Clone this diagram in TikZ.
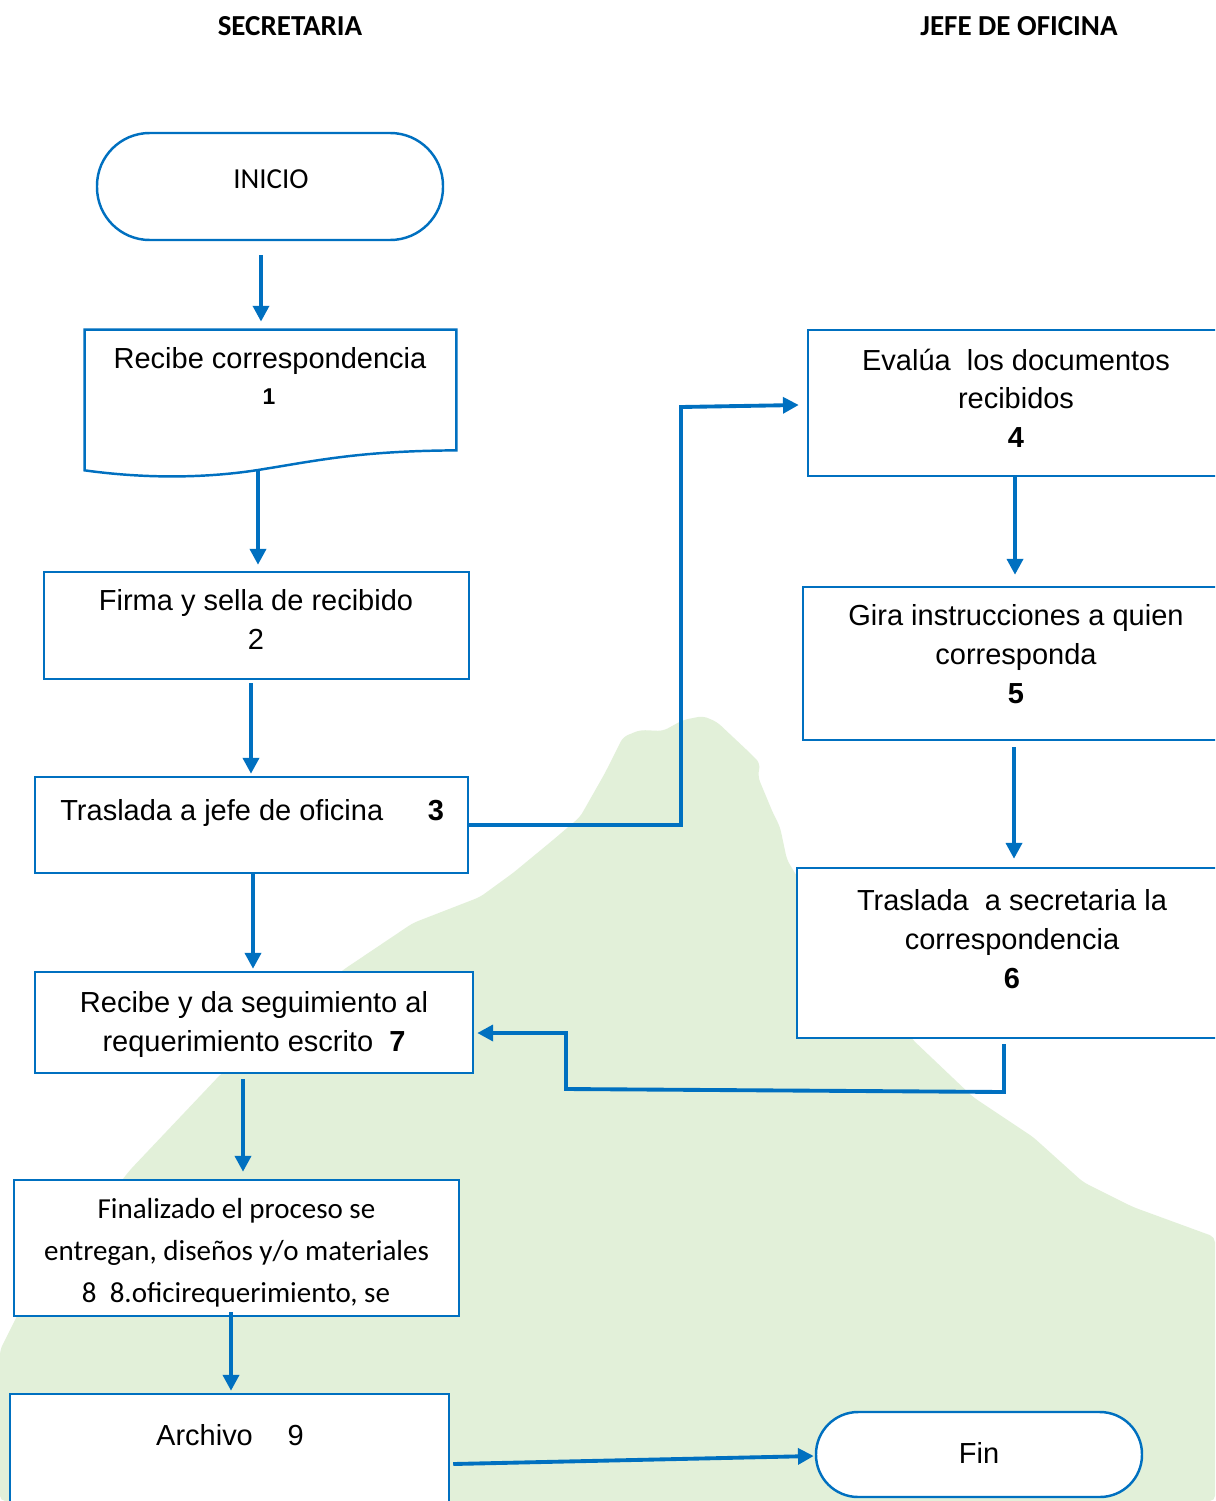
\documentclass[tikz,border=0pt]{standalone}
\usepackage{fontspec}
\setmainfont{Liberation Sans}
\newfontfamily\calibri{Carlito}
\usetikzlibrary{arrows.meta,calc,fit}
\definecolor{azul}{HTML}{0070C0}
\definecolor{verde}{HTML}{E2F0D9}
\begin{document}
\begin{tikzpicture}[x=0.02cm,y=-0.02cm,
  boxst/.style={draw=azul, line width=1.4pt, fill=white, inner sep=0pt},
  term/.style={boxst, rounded corners=#1},
  arr/.style={draw=azul, line width=2.2pt, -{Triangle[length=9pt,width=9pt]}},
  txt/.style={anchor=base, inner sep=0pt, font=\fontsize{16.5}{20}\selectfont},
  ctxt/.style={anchor=base, inner sep=0pt, font=\calibri\fontsize{16.5}{20}\selectfont},
  hdr/.style={anchor=base, inner sep=0pt, font=\calibri\bfseries\fontsize{16.5}{20}\selectfont}]

\clip (0,0) rectangle (1215,1501);
\fill[white] (0,0) rectangle (1215,1501);
\fill[verde, rounded corners=3pt] (0,1350) -- (20,1310) -- (130,1170) -- (220,1075) -- (343,970)
  -- (413,923) -- (480,897) -- (513,873) -- (553,840) -- (580,817) -- (605,773) -- (623,737)
  -- (640,730) -- (663,731) -- (683,720) -- (703,716) -- (717,722) -- (750,753) -- (760,763)
  -- (758,777) -- (773,813) -- (780,827) -- (787,860) -- (795,873) -- (850,960) -- (913,1040)
  -- (973,1097) -- (1033,1137) -- (1083,1182) -- (1133,1207) -- (1215,1237) -- (1215,1501)
  -- (0,1501) -- cycle;

% headers
\node[hdr] (h1) at (290,35) {SECRETARIA};
\node[hdr] (h2) at (1019,35) {JEFE DE OFICINA};

% shapes
\node[term=30pt, fit={(97,133) (443,240)}] (inicio) {};
\node[inner sep=0pt, fit={(85,330) (456,450)}] (b1) {};
\draw[draw=azul, line width=1.4pt, fill=white] ($(b1.south west)+(0,20)$) -- (b1.north west) -- (b1.north east) -- (b1.south east)
  .. controls (360,451) and (320,460) .. (258,470) .. controls (200,479) and (140,478) .. ($(b1.south west)+(0,20)$) -- cycle;
\node[boxst, fit={(44,572) (469,679)}] (b2) {};
\node[boxst, fit={(35,777) (468,873)}] (b3) {};
\node[boxst, fit={(808,330) (1230,476)}] (b4) {};
\node[boxst, fit={(803,587) (1230,740)}] (b5) {};
\node[boxst, fit={(797,868) (1230,1038)}] (b6) {};
\node[boxst, fit={(35,972) (473,1073)}] (b7) {};
\node[boxst, fit={(14,1180) (459,1316)}] (b8) {};
\node[boxst, fit={(10,1394) (449,1520)}] (b9) {};
\node[term=24pt, fit={(816,1412) (1142,1497)}] (fin) {};

% texts
\node[ctxt] (t0) at (271,188) {INICIO};
\node[txt] (t1a) at (270,368) {Recibe correspondencia};
\node[txt, font=\bfseries\fontsize{13}{15}\selectfont] (t1b) at (269,404) {1};
\node[txt] (t2a) at (256,610) {Firma y sella de recibido};
\node[txt] (t2b) at (256,649) {2};
\node[txt, anchor=base west] (t3a) at (60,820) {Traslada a jefe de oficina};
\node[txt, font=\bfseries\fontsize{16.5}{20}\selectfont] (t3b) at (436,820) {3};
\node[txt] (t4a) at (1016,370) {Evalúa\ \ los documentos};
\node[txt] (t4b) at (1016,408) {recibidos};
\node[txt, font=\bfseries\fontsize{16.5}{20}\selectfont] (t4c) at (1016,447) {4};
\node[txt] (t5a) at (1016,625) {Gira instrucciones a quien};
\node[txt] (t5b) at (1016,664) {corresponda};
\node[txt, font=\bfseries\fontsize{16.5}{20}\selectfont] (t5c) at (1016,703) {5};
\node[txt] (t6a) at (1012,910) {Traslada\ \ a secretaria la};
\node[txt] (t6b) at (1012,949) {correspondencia};
\node[txt, font=\bfseries\fontsize{16.5}{20}\selectfont] (t6c) at (1012,988) {6};
\node[txt] (t7a) at (254,1012) {Recibe y da seguimiento al};
\node[txt] (t7b) at (254,1051) {requerimiento escrito\ \ \textbf{7}};
\node[ctxt] (t8a) at (236.5,1218) {Finalizado el proceso se};
\node[ctxt] (t8b) at (236.5,1260) {entregan, diseños y/o materiales};
\node[ctxt] (t8c) at (236,1302) {8\ \ 8.oficirequerimiento, se};
\node[txt] (t9) at (230,1445) {Archivo\hspace{1.2em}9};
\node[txt] (tf) at (979,1463) {Fin};

% connectors
\coordinate (k1) at (681,825);
\coordinate (k2) at (681,407);
\coordinate (k3) at (1004,1092);
\coordinate (k4) at (566,1089);
\coordinate (k5) at (566,1033);
\draw[arr] ($(inicio.south)+(-9,14)$) -- ($(b1.north)+(-9.5,-8)$);
\draw[arr] ($(b1.south)+(-12.5,20)$) -- ($(b2.north)+(1.5,-6)$);
\draw[arr] ($(b2.south)+(-5.5,3)$) -- ($(b3.north)+(-0.5,-2)$);
\draw[arr] (b3.east) -- (k1) -- (k2) -- ($(b4.west)+(-8,2)$);
\draw[arr] ($(b3.south)+(1.5,0)$) -- ($(b7.north)+(-1,-2)$);
\draw[arr] ($(b4.south)+(-4,0)$) -- ($(b5.north)+(-1.5,-11)$);
\draw[arr] ($(b5.south)+(-2.5,6)$) -- ($(b6.north)+(0.5,-8)$);
\draw[arr] ($(b6.south)+(-9.5,5)$) -- (k3) -- (k4) -- (k5) -- ($(b7.east)+(3,10.5)$);
\draw[arr] ($(b7.south)+(-11,5)$) -- ($(b8.north)+(6.5,-7)$);
\draw[arr] ($(b8.south)+(-5.5,-5)$) -- ($(b9.north)+(1.5,-2)$);
\draw[arr] ($(b9.east)+(3,7)$) -- ($(fin.west)+(-1,1.5)$);
\end{tikzpicture}
\end{document}
